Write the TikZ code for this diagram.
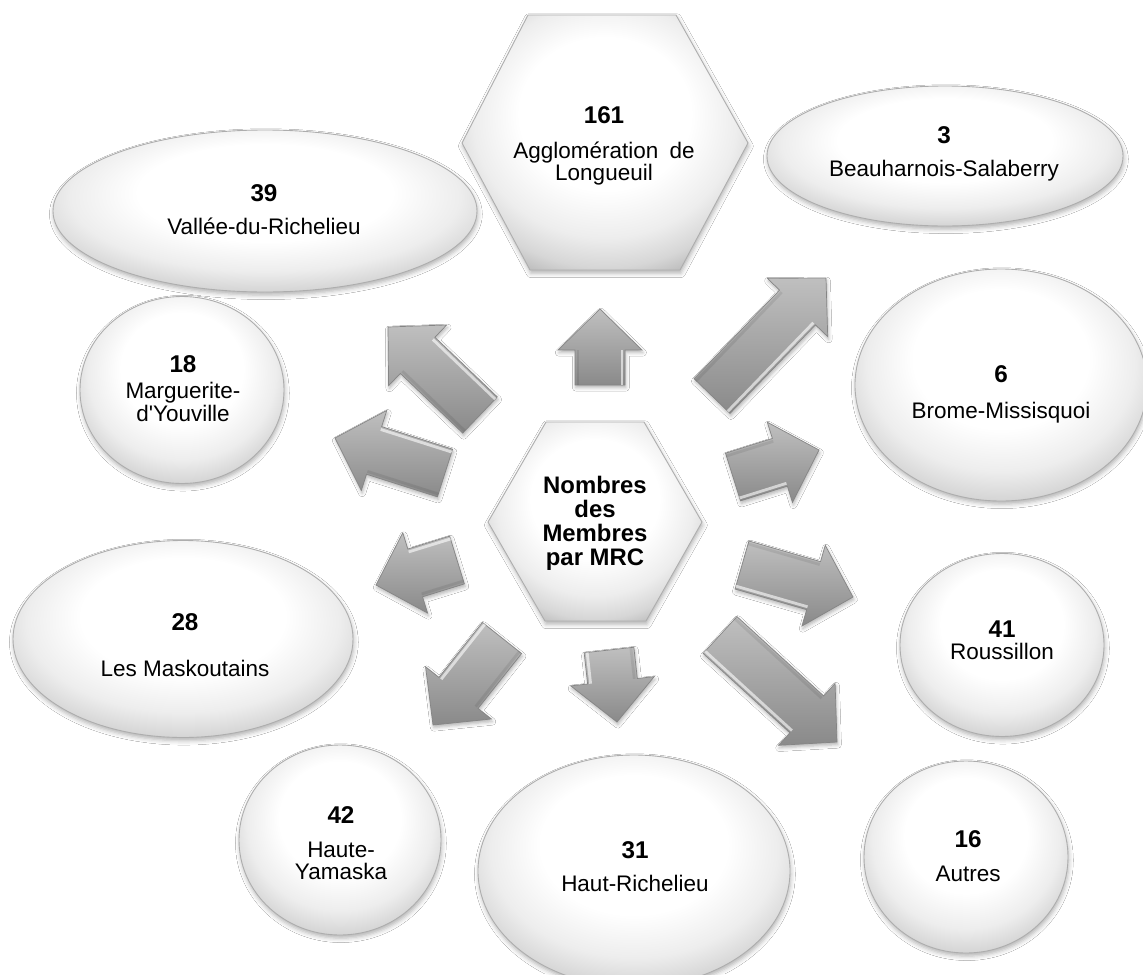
\documentclass[tikz,border=0pt]{standalone}
\usepackage{fontspec}
\setmainfont{Liberation Sans}
\newfontfamily\plainsans{Liberation Sans}
\usetikzlibrary{calc,shapes.geometric,shadows.blur}

% soft white-to-grey fill, lighter towards the top
\pgfdeclareradialshading{softball}{\pgfpoint{0bp}{8bp}}{%
  color(0bp)=(white); color(15bp)=(white); color(23bp)=(black!7);
  color(28bp)=(black!16); color(31bp)=(black!26); color(34bp)=(black!36);
  color(50bp)=(black!36)}

\newcommand\px{0.02cm}
\newcommand\shw{0.5cm}     % half width of an arrow shaft
\newcommand\shwin{0.44cm}  % inset of the bevel lines
\newcommand\hhw{0.84cm}    % half width of an arrow head
\newcommand\hlen{0.82cm}   % length of an arrow head

% block arrow: #1 name, #2 start of the shaft, #3 tip
\newcommand\blockarrow[3]{%
  \coordinate (#1-s) at #2;
  \coordinate (#1-t) at #3;
  \coordinate (#1-b) at ($(#1-t)!\hlen!(#1-s)$);
  \path[blockarr]
    ($(#1-s)!\shw!90:(#1-t)$) --
    ($(#1-b)!\shw!90:(#1-t)$) --
    ($(#1-b)!\hhw!90:(#1-t)$) --
    (#1-t) --
    ($(#1-b)!\hhw!-90:(#1-t)$) --
    ($(#1-b)!\shw!-90:(#1-t)$) --
    ($(#1-s)!\shw!-90:(#1-t)$) -- cycle;
  % bevel: light edge on one side of the shaft, darker on the other
  \draw[bevellight] ($(#1-s)!\shwin!-90:(#1-t)$) -- ($(#1-b)!\shwin!-90:(#1-t)$);
  \draw[beveldark] ($(#1-s)!\shwin!90:(#1-t)$) -- ($(#1-b)!\shwin!90:(#1-t)$);
}

\tikzset{
  bubble/.style={shading=softball, draw=black!32, line width=0.5pt,
    blur shadow={shadow xshift=0.5pt, shadow yshift=-1.8pt,
      shadow blur radius=2.5pt, shadow opacity=30}},
  oval/.style={bubble, ellipse, inner sep=0pt},
  blockarr/.style={top color=black!25, bottom color=black!46,
    draw=black!48, line width=0.4pt, line join=miter,
    blur shadow={shadow xshift=0.5pt, shadow yshift=-1.5pt,
      shadow blur radius=2pt, shadow opacity=30}},
  bevellight/.style={white, opacity=0.6, line width=1.6pt},
  beveldark/.style={black, opacity=0.08, line width=1.6pt},
  num/.style={inner sep=0pt, text height=9.9pt, text depth=0pt,
    font=\bfseries\fontsize{13.8}{15}\selectfont},
  lbl/.style={inner sep=0pt, text height=9.2pt, text depth=0pt,
    font=\fontsize{12.8}{14}\selectfont},
  hubtxt/.style={inner sep=0pt, text height=9.75pt, text depth=0pt,
    font=\bfseries\fontsize{13.6}{15}\selectfont},
}

\begin{document}
\begin{tikzpicture}[x=0.02cm, y=-0.02cm]
\useasboundingbox (0,0) rectangle (1143,974);
\fill[white] (0,0) rectangle (1143,974);

% outer shapes
\node[oval, minimum width=424*\px, minimum height=162*\px] (vallee) at (265,211) {};
\node[oval, minimum width=356*\px, minimum height=140*\px] (beau) at (945,156) {};
\node[oval, minimum width=292*\px, minimum height=232*\px] (brome) at (1001,385) {};
\node[oval, minimum width=204*\px, minimum height=187*\px] (marg) at (182,390) {};
\node[oval, minimum width=340*\px, minimum height=197*\px] (mask) at (183,639) {};
\node[oval, minimum width=204*\px, minimum height=183*\px] (rous) at (1002,645) {};
\node[oval, minimum width=202*\px, minimum height=190*\px] (haya) at (340,840) {};
\node[oval, minimum width=312*\px, minimum height=232*\px] (hari) at (634,871) {};
\node[oval, minimum width=204*\px, minimum height=192*\px] (autres) at (966,857) {};

% hexagons
\path[bubble] (462,143) -- (528,15) -- (676,15) -- (748,143) -- (680,270) -- (530,270) -- cycle;
\path[bubble] (488,522) -- (546,422) -- (644,422) -- (702,522) -- (646,621) -- (545,621) -- cycle;

% arrows from the hub
\blockarrow{aup}{(600,385)}{(600,309)}
\blockarrow{ane}{(712,396)}{(826,278)}
\blockarrow{abr}{(733,477)}{(819,450)}
\blockarrow{aro}{(742,565)}{(853,597)}
\blockarrow{aau}{(720,635)}{(837,742)}
\blockarrow{adn}{(609,650)}{(617,722)}
\blockarrow{asw}{(502,638)}{(433,725)}
\blockarrow{ama}{(457,560)}{(376,585)}
\blockarrow{amg}{(445,473)}{(335,438)}
\blockarrow{anw}{(480,415)}{(388,327)}

% texts
\node[num] (top-n) at (604,115) {161};
\node[lbl] (top-a) at (604,150) {Agglomération\hspace{0.5em}de};
\node[lbl] (top-b) at (604,172) {Longueuil};

\node[hubtxt] (hub-a) at (595,485) {Nombres};
\node[hubtxt] (hub-b) at (595,509) {des};
\node[hubtxt] (hub-c) at (595,533) {Membres};
\node[hubtxt] (hub-d) at (595,557) {par MRC};

\node[num] (vallee-n) at (264,193) {39};
\node[lbl] (vallee-a) at (264,226) {Vallée-du-Richelieu};

\node[num] (beau-n) at (944,135) {3};
\node[lbl] (beau-a) at (944,168) {Beauharnois-Salaberry};

\node[num] (brome-n) at (1001,374) {6};
\node[lbl] (brome-a) at (1001,410) {Brome-Missisquoi};

\node[num] (marg-n) at (183,364) {18};
\node[lbl] (marg-a) at (183,390) {Marguerite-};
\node[lbl] (marg-b) at (183,413) {\plainsans d'Youville};

\node[num] (mask-n) at (185,622) {28};
\node[lbl] (mask-a) at (185,668) {Les Maskoutains};

\node[num] (rous-n) at (1002,629) {41};
\node[lbl] (rous-a) at (1002,651) {Roussillon};

\node[num] (haya-n) at (341,815) {42};
\node[lbl] (haya-a) at (341,849) {Haute-};
\node[lbl] (haya-b) at (341,871) {Yamaska};

\node[num] (hari-n) at (635,850) {31};
\node[lbl] (hari-a) at (635,883) {Haut-Richelieu};

\node[num] (autres-n) at (968,839) {16};
\node[lbl] (autres-a) at (968,873) {Autres};
\end{tikzpicture}
\end{document}
